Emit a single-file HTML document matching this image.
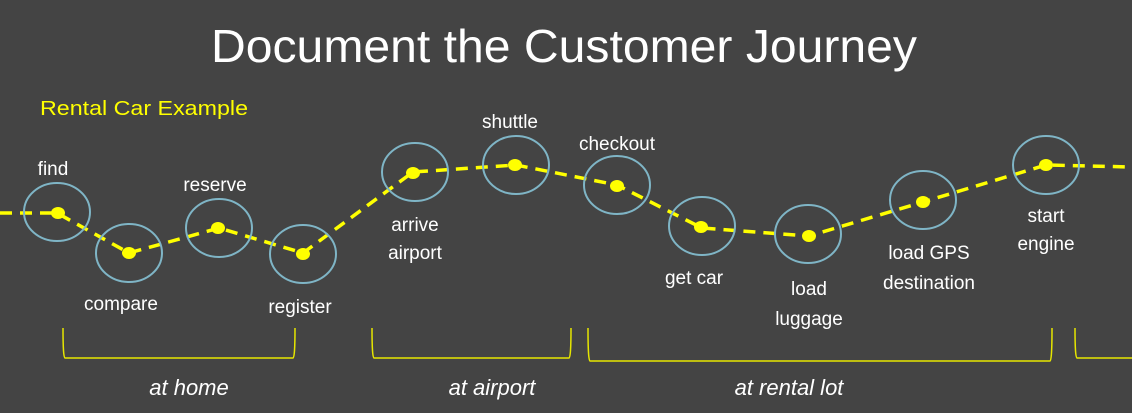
<!DOCTYPE html>
<html><head><style>
html,body{margin:0;padding:0;background:#444444;}
svg{display:block;}
text{font-family:"Liberation Sans",sans-serif;fill:#fff;}
</style></head><body>
<svg width="1132" height="413" viewBox="0 0 1132 413" xmlns="http://www.w3.org/2000/svg">
<rect width="1132" height="413" fill="#444444"/>
<text x="564" y="62" font-size="46" text-anchor="middle" textLength="706" lengthAdjust="spacingAndGlyphs">Document the Customer Journey</text>
<text x="40" y="115" font-size="20" style="fill:#ffff00" textLength="208" lengthAdjust="spacingAndGlyphs">Rental Car Example</text>
<polyline fill="none" stroke="#ffff00" stroke-width="3.5" stroke-dasharray="12,8"
 points="0,213 57,213 129,253 219,228 303,253 413,172 516,165 617,185 702,228 809,236 923,202 1046,165 1132,167"/>
<g fill="none" stroke="#7fb5c6" stroke-width="2">
<ellipse cx="57" cy="212" rx="33" ry="29"/>
<ellipse cx="129" cy="253" rx="33" ry="29"/>
<ellipse cx="219" cy="228" rx="33" ry="29"/>
<ellipse cx="303" cy="254" rx="33" ry="29"/>
<ellipse cx="415" cy="172" rx="33" ry="29"/>
<ellipse cx="516" cy="165" rx="33" ry="29"/>
<ellipse cx="617" cy="185" rx="33" ry="29"/>
<ellipse cx="702" cy="226" rx="33" ry="29"/>
<ellipse cx="808" cy="234" rx="33" ry="29"/>
<ellipse cx="923" cy="200" rx="33" ry="29"/>
<ellipse cx="1046" cy="165" rx="33" ry="29"/>
</g>
<g fill="#ffff00">
<ellipse cx="58" cy="213" rx="7" ry="6"/>
<ellipse cx="129" cy="253" rx="7" ry="6"/>
<ellipse cx="218" cy="228" rx="7" ry="6"/>
<ellipse cx="303" cy="254" rx="7" ry="6"/>
<ellipse cx="413" cy="173" rx="7" ry="6"/>
<ellipse cx="515" cy="165" rx="7" ry="6"/>
<ellipse cx="617" cy="186" rx="7" ry="6"/>
<ellipse cx="701" cy="227" rx="7" ry="6"/>
<ellipse cx="809" cy="236" rx="7" ry="6"/>
<ellipse cx="923" cy="202" rx="7" ry="6"/>
<ellipse cx="1046" cy="165" rx="7" ry="6"/>
</g>
<g font-size="19" text-anchor="middle">
<text x="53" y="175">find</text>
<text x="215" y="191">reserve</text>
<text x="121" y="310">compare</text>
<text x="300" y="313">register</text>
<text x="415" y="231">arrive</text>
<text x="415" y="259">airport</text>
<text x="510" y="128">shuttle</text>
<text x="617" y="150">checkout</text>
<text x="694" y="284">get car</text>
<text x="809" y="295">load</text>
<text x="809" y="325">luggage</text>
<text x="929" y="259">load GPS</text>
<text x="929" y="289">destination</text>
<text x="1046" y="222">start</text>
<text x="1046" y="250">engine</text>
</g>
<g fill="none" stroke="#e6e600" stroke-width="1.5">
<path d="M63,328 Q63,358 65,358 L293,358 Q295,358 295,328"/>
<path d="M372,328 Q372,358 374,358 L569,358 Q571,358 571,328"/>
<path d="M588,328 Q588,361 590,361 L1050,361 Q1052,361 1052,328"/>
<path d="M1075,328 Q1075,358 1077,358 L1132,358"/>
</g>
<g font-size="22" font-style="italic" text-anchor="middle">
<text x="189" y="395">at home</text>
<text x="492" y="395">at airport</text>
<text x="789" y="395">at rental lot</text>
</g>
</svg>
</body></html>
